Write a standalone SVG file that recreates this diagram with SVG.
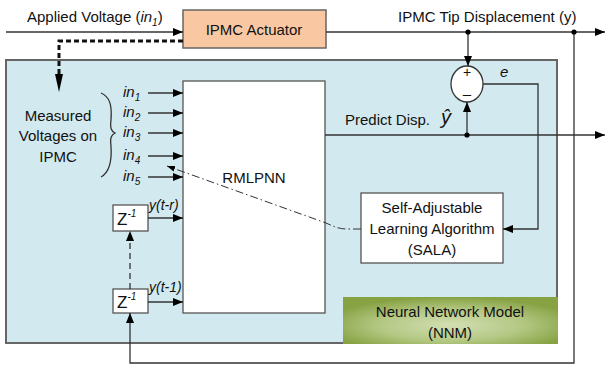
<svg xmlns="http://www.w3.org/2000/svg" width="607" height="365" viewBox="0 0 607 365">
  <style>
    text { font-family: "Liberation Sans", Arial, sans-serif; fill: #111; }
    .t15 { font-size: 15px; }
    .it { font-style: italic; }
    .mid { text-anchor: middle; }
    .ln { fill: none; stroke: #333; stroke-width: 1.3; }
    .box { fill: #fff; stroke: #555; stroke-width: 1.3; }
  </style>
  <defs>
    <marker id="arr" viewBox="0 0 10 8" refX="10" refY="4" markerWidth="11" markerHeight="8" markerUnits="userSpaceOnUse" orient="auto">
      <path d="M0,0 L10,4 L0,8 Z" fill="#000"/>
    </marker>
    <marker id="arrSmall" viewBox="0 0 8 6" refX="8" refY="3" markerWidth="8" markerHeight="6" markerUnits="userSpaceOnUse" orient="auto">
      <path d="M0,0 L8,3 L0,6 Z" fill="#000"/>
    </marker>
    <radialGradient id="nnmFill" cx="50%" cy="60%" r="60%">
      <stop offset="0" stop-color="#d3dfb3"/>
      <stop offset="0.55" stop-color="#b4c884"/>
      <stop offset="1" stop-color="#86a243"/>
    </radialGradient>
  </defs>

  <!-- model frame -->
  <g id="model-frame">
    <rect x="6" y="60" width="551" height="283" fill="#d2e9ef" stroke="#666" stroke-width="2"/>
  </g>

  <!-- NNM label panel -->
  <g id="nnm">
    <rect x="343" y="297" width="215" height="47" fill="url(#nnmFill)"/>
    <text class="t15 mid" x="450" y="317">Neural Network Model</text>
    <text class="t15 mid" x="450" y="338">(NNM)</text>
  </g>

  <!-- actuator -->
  <g id="actuator">
    <rect x="183" y="10" width="143" height="38" fill="#f9c8a2" stroke="#666" stroke-width="1.5"/>
    <text class="t15 mid" x="254" y="35">IPMC Actuator</text>
  </g>

  <!-- network block -->
  <g id="rmlpnn">
    <rect class="box" x="183" y="81" width="142" height="232"/>
    <text class="t15 mid" x="254" y="183">RMLPNN</text>
  </g>

  <!-- learning algorithm -->
  <g id="sala">
    <rect class="box" x="361" y="193" width="142" height="70"/>
    <text class="t15 mid" x="432" y="213">Self-Adjustable</text>
    <text class="t15 mid" x="432" y="234">Learning Algorithm</text>
    <text class="t15 mid" x="432" y="255">(SALA)</text>
  </g>

  <!-- unit delays -->
  <g id="delay-r">
    <rect class="box" x="113" y="205" width="35" height="26"/>
    <text x="117" y="225" font-size="17">Z<tspan class="it" font-size="10" dy="-8">-1</tspan></text>
  </g>
  <g id="delay-1">
    <rect class="box" x="113" y="289" width="35" height="24"/>
    <text x="117" y="308" font-size="17">Z<tspan class="it" font-size="10" dy="-8">-1</tspan></text>
  </g>

  <!-- summing junction -->
  <g id="sum">
    <ellipse cx="467" cy="84" rx="16" ry="18" fill="#fff" stroke="#333" stroke-width="1.3"/>
    <text class="mid" x="467" y="77" font-size="14">+</text>
    <text class="mid" x="467" y="99" font-size="15">–</text>
  </g>

  <!-- measured voltages group label -->
  <g id="measured">
    <text class="t15 mid" x="58" y="121">Measured</text>
    <text class="t15 mid" x="58" y="141">Voltages on</text>
    <text class="t15 mid" x="58" y="162">IPMC</text>
    <path class="ln" d="M101,93 C110,97 112,105 111,120 C110,128 111,131 115,133 C111,135 110,138 111,146 C112,161 110,172 101,177" stroke-width="1"/>
  </g>

  <!-- connectors -->
  <g id="connectors">
    <!-- plant input/output -->
    <line class="ln" x1="6" y1="32" x2="183" y2="32" marker-end="url(#arr)"/>
    <line class="ln" x1="326" y1="32" x2="605" y2="32" marker-end="url(#arr)"/>
    <line class="ln" x1="468" y1="32" x2="468" y2="66" marker-end="url(#arr)"/>
    <!-- measured voltage tap -->
    <path d="M183,41 H59 V78" fill="none" stroke="#111" stroke-width="3" stroke-dasharray="5,3"/>
    <path d="M55,74 L63,74 L59,92 Z" fill="#000"/>
    <!-- network inputs -->
    <line class="ln" x1="148" y1="93" x2="183" y2="93" marker-end="url(#arr)"/>
    <line class="ln" x1="148" y1="113" x2="183" y2="113" marker-end="url(#arr)"/>
    <line class="ln" x1="148" y1="133" x2="183" y2="133" marker-end="url(#arr)"/>
    <line class="ln" x1="148" y1="156" x2="183" y2="156" marker-end="url(#arr)"/>
    <line class="ln" x1="148" y1="177" x2="183" y2="177" marker-end="url(#arr)"/>
    <line class="ln" x1="148" y1="218" x2="183" y2="218" marker-end="url(#arr)"/>
    <line class="ln" x1="148" y1="302" x2="183" y2="302" marker-end="url(#arr)"/>
    <!-- delay chain -->
    <line class="ln" x1="130" y1="289" x2="130" y2="231" stroke-dasharray="6,4" marker-end="url(#arr)"/>
    <path class="ln" d="M574,32 V363 H130 V313" stroke="#555" marker-end="url(#arr)"/>
    <!-- prediction path -->
    <line class="ln" x1="325" y1="135" x2="605" y2="135" marker-end="url(#arr)"/>
    <line class="ln" x1="467" y1="135" x2="467" y2="102" marker-end="url(#arr)"/>
    <!-- error to learning algorithm -->
    <path class="ln" d="M483,84 H538 V229 H503" marker-end="url(#arr)"/>
    <!-- weight update -->
    <path d="M361,229 H347 C338,229 333,226 326,223 L167,166" fill="none" stroke="#333" stroke-width="1" stroke-dasharray="8,3,1.5,3" marker-end="url(#arrSmall)"/>
    <!-- junction dots -->
    <circle cx="468" cy="32" r="2.6" fill="#000"/>
    <circle cx="574" cy="32" r="2.6" fill="#000"/>
    <circle cx="467" cy="135" r="2.6" fill="#000"/>
  </g>

  <!-- signal labels -->
  <g id="labels">
    <text class="t15" x="27" y="22">Applied Voltage (<tspan class="it">in<tspan font-size="10" dy="4">1</tspan></tspan><tspan dy="-4">)</tspan></text>
    <text class="t15" x="398" y="22">IPMC Tip Displacement (y)</text>
    <text class="t15" x="345" y="125">Predict Disp.</text>
    <text x="441" y="124" font-family="Liberation Serif, serif" font-style="italic" font-size="20">ŷ</text>
    <text class="t15 it" x="500" y="77">e</text>
    <text class="t15 it" x="123" y="97">in<tspan font-size="10" dy="4">1</tspan></text>
    <text class="t15 it" x="123" y="117">in<tspan font-size="10" dy="4">2</tspan></text>
    <text class="t15 it" x="123" y="137">in<tspan font-size="10" dy="4">3</tspan></text>
    <text class="t15 it" x="123" y="160">in<tspan font-size="10" dy="4">4</tspan></text>
    <text class="t15 it" x="123" y="181">in<tspan font-size="10" dy="4">5</tspan></text>
    <text class="it" x="149" y="210" font-size="14">y(t-r)</text>
    <text class="it" x="149" y="292" font-size="14">y(t-1)</text>
  </g>
</svg>
